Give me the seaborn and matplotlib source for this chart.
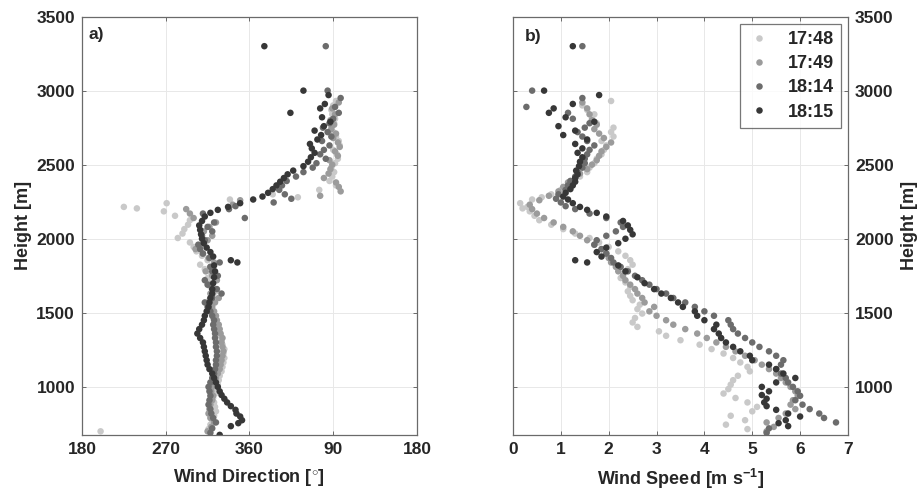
import numpy as np
import pandas as pd
import matplotlib
matplotlib.use("Agg")
import matplotlib.pyplot as plt
import seaborn as sns

# ---------------- data ----------------
times = ["17:48", "17:49", "18:14", "18:15"]
colors = ["#c9c9c9", "#9b9b9b", "#6c6c6c", "#373737"]

h_1748 = [700, 715, 745, 775, 805, 835, 865, 895, 925, 955, 985, 1015, 1045, 1075, 1105, 1135, 1165, 1195,
          1225, 1255, 1285, 1315, 1345, 1375, 1405, 1435, 1465, 1495, 1525, 1555, 1585, 1615, 1645, 1675,
          1705, 1735, 1765, 1795, 1825, 1855, 1885, 1915, 1945, 1975, 2005, 2035, 2065, 2095, 2125, 2155,
          2185, 2205, 2215, 2240, 2265, 2280, 2300, 2330, 2360, 2390, 2420, 2450, 2480, 2510, 2540, 2570,
          2600, 2630, 2660, 2690, 2720, 2750, 2780, 2810, 2840, 2870, 2900, 2930]
d_1748 = [200, 316, 318, 320, 322, 324, 323, 322, 321, 323, 325, 326, 327, 328, 330, 331, 332, 333,
          332, 333, 331, 330, 329, 327, 325, 323, 321, 319, 318, 320, 317, 321, 324, 318,
          316, 315, 319, 312, 307, 315, 309, 303, 300, 296, 283, 288, 290, 294, 296, 280,
          268, 239, 225, 271, 339, 412, 385, 435, 453, 446, 449, 451, 448, 452, 455, 454,
          450, 457, 456, 453, 450, 448, 451, 452, 449, 448, 450, 453]
s_1748 = [np.nan, 4.9, 4.45, 4.85, 4.55, 5.0, 5.1, 4.9, 4.65, 4.4, 4.5, 4.55, 4.6, 4.7, 4.95, 4.9, 4.75, 4.6,
          4.4, 4.15, 3.9, 3.5, 3.2, 3.05, 2.6, 2.5, 2.55, 2.7, 2.6, 2.65, 2.5, 2.45, 2.4, 2.45,
          2.35, 2.25, 2.3, 2.4, 2.5, 2.45, 2.35, 2.2, 2.0, 1.8, 1.6, 1.3, 1.05, 0.8, 0.55, 0.45,
          0.35, 0.2, 0.3, 0.15, 0.4, 0.6, 0.8, 1.0, 1.15, 1.2, 1.4, 1.55, 1.6, 1.7, 1.75, 1.85,
          1.9, 1.95, 1.85, 2.1, 2.05, 2.1, 1.75, 1.65, 1.7, 1.55, 1.45, 2.05]

h_1749 = [700, 730, 760, 790, 820, 850, 880, 910, 940, 970, 1000, 1030, 1060, 1090, 1120, 1150, 1180,
          1210, 1240, 1270, 1300, 1330, 1360, 1390, 1420, 1450, 1480, 1510, 1540, 1570, 1600, 1630, 1660,
          1690, 1720, 1750, 1780, 1810, 1840, 1870, 1900, 1930, 1960, 1990, 2020, 2050, 2080, 2110, 2140,
          2170, 2200, 2230, 2260, 2290, 2320, 2350, 2380, 2410, 2440, 2470, 2500, 2530, 2560, 2590, 2620,
          2650, 2680, 2710, 2740, 2770, 2800, 2840, 2880, 2920]
d_1749 = [315, 319, 322, 318, 316, 317, 318, 320, 321, 319, 320, 322, 324, 326, 328, 329, 330,
          331, 332, 331, 330, 331, 329, 328, 327, 325, 324, 322, 320, 323, 327, 318, 322,
          316, 325, 320, 313, 318, 322, 316, 310, 302, 308, 315, 320, 311, 317, 324, 300,
          296, 292, 342, 350, 436, 458, 456, 453, 440, 445, 447, 449, 446, 455, 452, 457,
          455, 450, 453, 448, 451, 447, 452, 449, 456]
s_1749 = [5.3, 5.45, 5.3, 5.55, 5.7, 5.9, 5.8, 5.85, 5.95, 5.9, 5.8, 5.7, 5.6, 5.5, 5.35, 5.2, 5.05,
          4.85, 4.65, 4.45, 4.25, 4.05, 3.85, 3.6, 3.35, 3.2, 3.0, 2.85, 2.95, 2.75, 2.7, 2.6, 2.55,
          2.45, 2.35, 2.3, 2.2, 2.15, 2.05, 2.0, 1.95, 1.85, 1.7, 1.55, 1.4, 1.25, 1.05, 0.85, 0.65,
          0.5, 0.4, 0.35, 0.55, 0.75, 0.95, 1.05, 1.15, 1.3, 1.4, 1.55, 1.65, 1.75, 1.8, 1.85, 1.95,
          2.05, 1.9, 1.8, 1.7, 1.75, 1.65, 1.6, 1.55, 1.45]

h_1814 = [690, 720, 760, 790, 820, 850, 880, 910, 940, 970, 1000, 1030, 1060, 1090, 1120, 1150, 1180,
          1210, 1240, 1270, 1300, 1330, 1360, 1390, 1420, 1450, 1480, 1510, 1540, 1570, 1600, 1630, 1660,
          1690, 1720, 1750, 1780, 1810, 1840, 1870, 1900, 1930, 1960, 1990, 2020, 2050, 2080, 2110, 2140,
          2170, 2200, 2220, 2245, 2270, 2300, 2330, 2360, 2390, 2420, 2450, 2480, 2510, 2540, 2570, 2600,
          2630, 2660, 2690, 2720, 2750, 2780, 2810, 2850, 2890, 2950, 3000, 3300]
d_1814 = [318, 320, 324, 321, 319, 318, 316, 317, 318, 317, 316, 318, 320, 322, 323, 324, 324,
          325, 325, 324, 324, 323, 323, 322, 321, 322, 320, 318, 315, 312, 320, 330, 325,
          315, 312, 326, 320, 318, 328, 317, 310, 307, 305, 312, 309, 320, 315, 322, 355,
          310, 338, 345, 386, 405, 398, 392, 395, 400, 410, 418, 428, 432, 442, 436, 440,
          446, 438, 448, 444, 439, 446, 450, 456, 452, 458, 444, 442]
s_1814 = [5.3, 5.35, 6.75, 6.5, 6.4, 6.2, 6.05, 5.9, 6.0, 5.95, 5.85, 5.75, 5.7, 5.6, 5.5, 5.6, 5.65,
          5.5, 5.35, 5.15, 5.0, 4.85, 4.7, 4.6, 4.55, 4.5, 4.2, 4.0, 3.8, 3.6, 3.35, 3.2, 3.0,
          2.85, 2.7, 2.55, 2.4, 2.25, 2.1, 2.05, 1.95, 1.85, 1.7, 1.75, 1.95, 2.15, 2.3, 2.25, 1.95,
          1.6, 1.3, 1.1, 1.0, 0.9, 0.95, 1.1, 1.15, 1.2, 1.3, 1.35, 1.45, 1.5, 1.5, 1.55, 1.6,
          1.7, 1.55, 1.45, 1.35, 1.5, 1.6, 1.25, 1.15, 0.28, 1.45, 0.4, 1.45]

h_1815 = [676, 735, 755, 775, 800, 820, 845, 870, 895, 920, 945, 970, 1000, 1030, 1060, 1090, 1120,
          1150, 1180, 1210, 1240, 1270, 1300, 1330, 1360, 1390, 1420, 1450, 1480, 1510, 1540, 1570, 1600,
          1630, 1660, 1700, 1740, 1780, 1820, 1840, 1855, 1880, 1910, 1940, 1970, 2000, 2030, 2060, 2090,
          2120, 2150, 2175, 2195, 2215, 2240, 2265, 2285, 2310, 2335, 2360, 2385, 2410, 2435, 2460, 2490,
          2520, 2550, 2580, 2610, 2640, 2670, 2700, 2730, 2760, 2790, 2820, 2850, 2880, 2910, 2970, 3000,
          3300]
d_1815 = [328, 340, 348, 352, 350, 346, 345, 340, 336, 333, 330, 328, 326, 324, 322, 320, 317,
          315, 314, 313, 312, 311, 310, 307, 304, 306, 309, 311, 312, 314, 316, 317, 318,
          320, 320, 321, 322, 323, 322, 347, 340, 321, 318, 314, 311, 309, 308, 307, 306,
          309, 312, 318, 326, 337, 350, 364, 374, 380, 385, 389, 393, 397, 401, 407, 418,
          423, 426, 430, 427, 425, 433, 437, 430, 440, 447, 438, 404, 436, 441, 445, 418,
          376]
s_1815 = [np.nan, 5.75, 5.55, 5.7, 6.0, 5.75, 5.5, 5.3, 5.25, 5.3, 5.2, 5.35, 5.2, 5.5, 5.9, 5.65, 5.5,
          5.35, 5.0, 4.95, 4.75, 4.6, 4.45, 4.35, 4.3, 4.2, 4.25, 4.0, 3.85, 3.8, 3.55, 3.45, 3.3,
          3.1, 2.95, 2.75, 2.6, 2.35, 2.2, 1.55, 1.3, 1.85, 1.75, 1.95, 2.2, 2.35, 2.5, 2.45, 2.4,
          2.3, 1.95, 1.75, 1.55, 1.4, 1.25, 1.15, 1.05, 1.1, 1.2, 1.25, 1.3, 1.3, 1.35, 1.32, 1.38,
          1.4, 1.45, 1.35, 1.45, 1.3, 1.55, 1.05, 1.3, 0.95, 1.7, 1.1, 0.75, 0.85, 1.25, 1.8, 0.65,
          1.25]

dir_ticks = [180, 270, 360, 450, 540]
dir_ticklabels = ["180", "270", "360", "90", "180"]
spd_ticks = [0, 1, 2, 3, 4, 5, 6, 7]
height_ticks = [1000, 1500, 2000, 2500, 3000, 3500]

frames = []
for t, h, d, s in zip(times, [h_1748, h_1749, h_1814, h_1815],
                      [d_1748, d_1749, d_1814, d_1815],
                      [s_1748, s_1749, s_1814, s_1815]):
    frames.append(pd.DataFrame({"time": t, "height": h, "direction": d, "speed": s}))
df = pd.concat(frames, ignore_index=True)

# ---------------- style ----------------
sns.set_theme(style="white")
plt.rcParams["font.family"] = ["Liberation Sans", "DejaVu Sans"]
plt.rcParams["font.weight"] = "bold"
plt.rcParams["axes.labelweight"] = "bold"
plt.rcParams["mathtext.fontset"] = "custom"
plt.rcParams["mathtext.rm"] = "Liberation Sans:bold"
plt.rcParams["mathtext.bf"] = "Liberation Sans:bold"
plt.rcParams["mathtext.default"] = "bf"

fig = plt.figure(figsize=(9.19, 4.90), dpi=100)
ax1 = fig.add_axes([0.0892, 0.1122, 0.3645, 0.854])
ax2 = fig.add_axes([0.5582, 0.1122, 0.3645, 0.854])

palette = dict(zip(times, colors))
sns.scatterplot(data=df, x="direction", y="height", hue="time", hue_order=times,
                palette=palette, s=22, linewidth=0, ax=ax1, legend=False)
sns.scatterplot(data=df, x="speed", y="height", hue="time", hue_order=times,
                palette=palette, s=22, linewidth=0, ax=ax2, legend=True)

spine_col = "#6a6a6a"
for ax in (ax1, ax2):
    ax.set_ylim(675, 3500)
    ax.set_yticks(height_ticks)
    ax.grid(True, color="#e8e8e8", linewidth=0.7)
    ax.set_axisbelow(True)
    for sp in ax.spines.values():
        sp.set_color(spine_col)
        sp.set_linewidth(0.9)
        sp.set_visible(True)
    ax.tick_params(axis="both", direction="in", length=3, width=0.7, color=spine_col,
                   labelsize=12.5, pad=5, top=True, bottom=True)
    for lab in ax.get_xticklabels() + ax.get_yticklabels():
        lab.set_fontweight("bold")

ax1.set_xlim(180, 540)
ax1.set_xticks(dir_ticks)
ax1.set_xticklabels(dir_ticklabels, fontweight="bold")
ax1.tick_params(axis="y", left=True, right=True)
ax1.set_xlabel(r"Wind Direction [$^{\circ}$]", fontsize=13, fontweight="bold", labelpad=7)
ax1.set_ylabel("Height [m]", fontsize=13, fontweight="bold", labelpad=3)

ax2.set_xlim(0, 7)
ax2.set_xticks(spd_ticks)
ax2.tick_params(axis="y", left=True, right=True, labelleft=False, labelright=True)
ax2.yaxis.set_label_position("right")
ax2.set_xlabel(r"Wind Speed [m s$^{-1}$]", fontsize=13, fontweight="bold", labelpad=7)
ax2.set_ylabel("Height [m]", fontsize=13, fontweight="bold", labelpad=5)
for lab in ax2.get_yticklabels():
    lab.set_fontweight("bold")

ax1.text(0.02, 0.975, "a)", transform=ax1.transAxes, fontsize=12.5, fontweight="bold", va="top", ha="left")
ax2.text(0.035, 0.97, "b)", transform=ax2.transAxes, fontsize=12.5, fontweight="bold", va="top", ha="left")

handles, labels = ax2.get_legend_handles_labels()
leg = ax2.legend(handles, labels, loc="upper right", frameon=True, fancybox=False,
                 prop={"size": 13, "weight": "bold"}, handlelength=1.2, handletextpad=1.0,
                 labelspacing=0.4, borderaxespad=0.4, borderpad=0.4, markerscale=1.0)
leg.get_frame().set_edgecolor("#555555")
leg.get_frame().set_linewidth(0.9)

fig.savefig("out.png", dpi=100)
